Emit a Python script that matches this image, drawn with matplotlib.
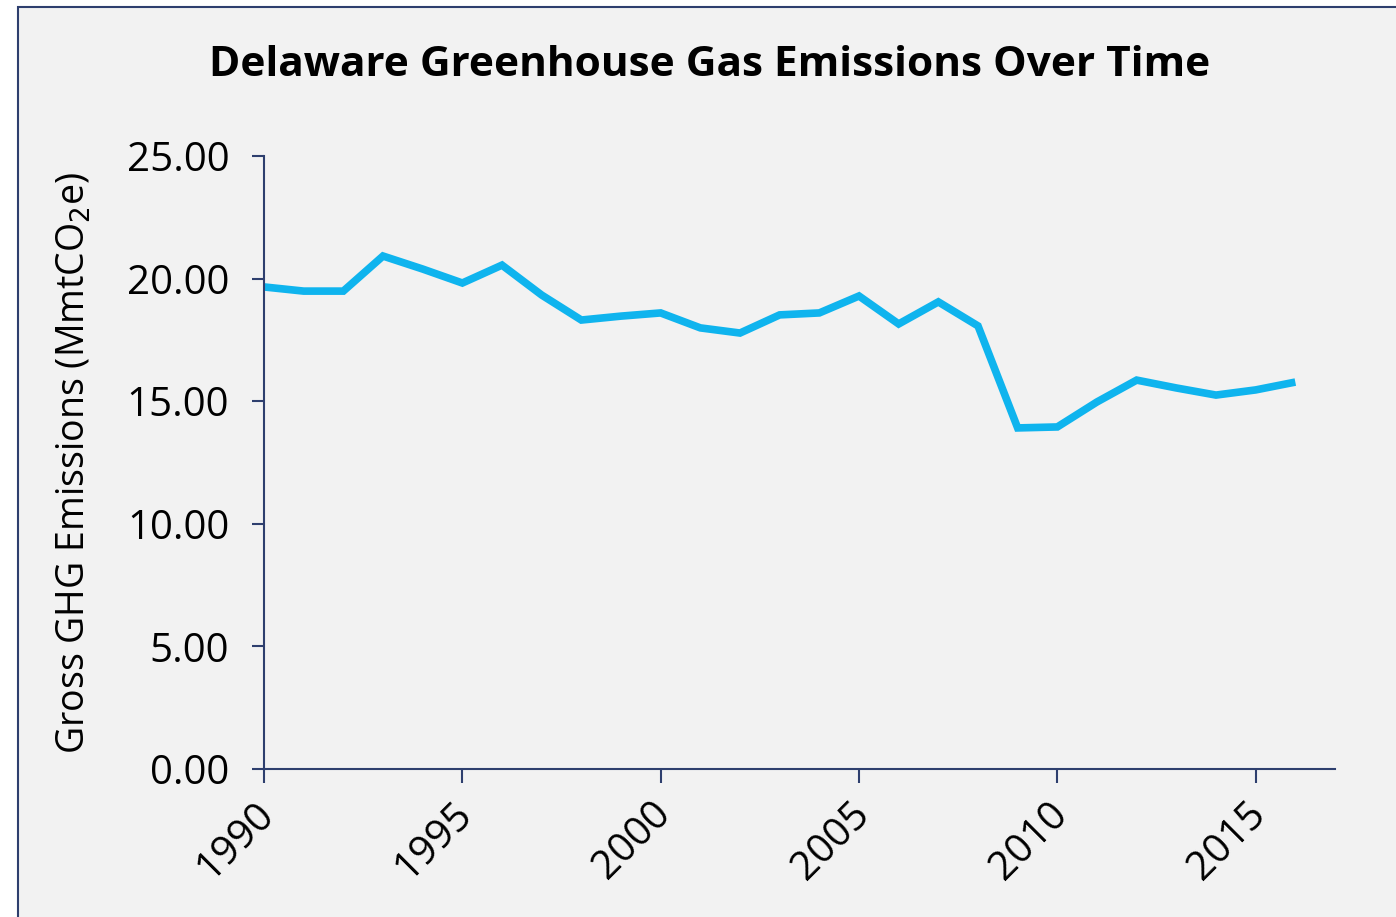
import matplotlib
matplotlib.use("Agg")
import matplotlib.pyplot as plt
import matplotlib.transforms as mtransforms
from matplotlib.patches import Rectangle
from matplotlib.ticker import FormatStrFormatter

years = list(range(1990, 2017))
emissions = [19.66, 19.49, 19.49, 20.92, 20.39, 19.82, 20.55, 19.33, 18.31, 18.47,
             18.60, 17.99, 17.78, 18.52, 18.60, 19.29, 18.15, 19.05, 18.07, 13.91,
             13.95, 14.97, 15.86, 15.54, 15.25, 15.46, 15.78]
yticks = [0, 5, 10, 15, 20, 25]
xticks = [1990, 1995, 2000, 2005, 2010, 2015]

plt.rcParams['font.family'] = ['Open Sans', 'DejaVu Sans']

W, H = 1396, 917
fig = plt.figure(figsize=(W / 100, H / 100), dpi=100)
fig.patch.set_facecolor('white')
bg = '#F2F2F2'
axis_col = '#2E3F6E'

# chart area frame (background axes)
bgax = fig.add_axes([0, 0, 1, 1], zorder=-5)
bgax.set_xlim(0, W)
bgax.set_ylim(H, 0)
bgax.axis('off')
bgax.add_patch(Rectangle((18, 7), W + 50, H + 50, facecolor=bg, edgecolor=axis_col,
                         linewidth=1.5))

ax = fig.add_axes([264 / W, 1 - 769 / H, (1335 - 264) / W, (769 - 156) / H], zorder=1)
ax.set_facecolor('none')
ax.plot(years, emissions, color='#0FB4EE', linewidth=5.5, solid_joinstyle='miter',
        solid_capstyle='butt', clip_on=False)
ax.set_xlim(1990, 2017)
ax.set_ylim(0, 25)
ax.set_yticks(yticks)
ax.set_xticks(xticks)
ax.yaxis.set_major_formatter(FormatStrFormatter('%.2f'))
for s in ['top', 'right']:
    ax.spines[s].set_visible(False)
for s in ['left', 'bottom']:
    ax.spines[s].set_color(axis_col)
    ax.spines[s].set_linewidth(1.5)
ax.tick_params(axis='y', direction='out', length=9, width=1.5, color=axis_col,
               labelsize=29, pad=16)
ax.tick_params(axis='x', direction='out', length=10, width=1.5, color=axis_col,
               labelsize=29, pad=8)
offset = mtransforms.ScaledTranslation(-10 / 100, 0, fig.dpi_scale_trans)
for lbl in ax.get_xticklabels():
    lbl.set_rotation(45)
    lbl.set_ha('right')
    lbl.set_va('top')
    lbl.set_rotation_mode('anchor')
    lbl.set_transform(lbl.get_transform() + offset)

ax.set_ylabel('Gross GHG Emissions (MmtCO$_2$e)', fontsize=27, labelpad=24)
fig.text(710 / W, 1 - 66 / H, 'Delaware Greenhouse Gas Emissions Over Time',
         ha='center', va='center', fontsize=30.5, fontweight='bold')

fig.savefig('out.png', dpi=100, facecolor='white')
